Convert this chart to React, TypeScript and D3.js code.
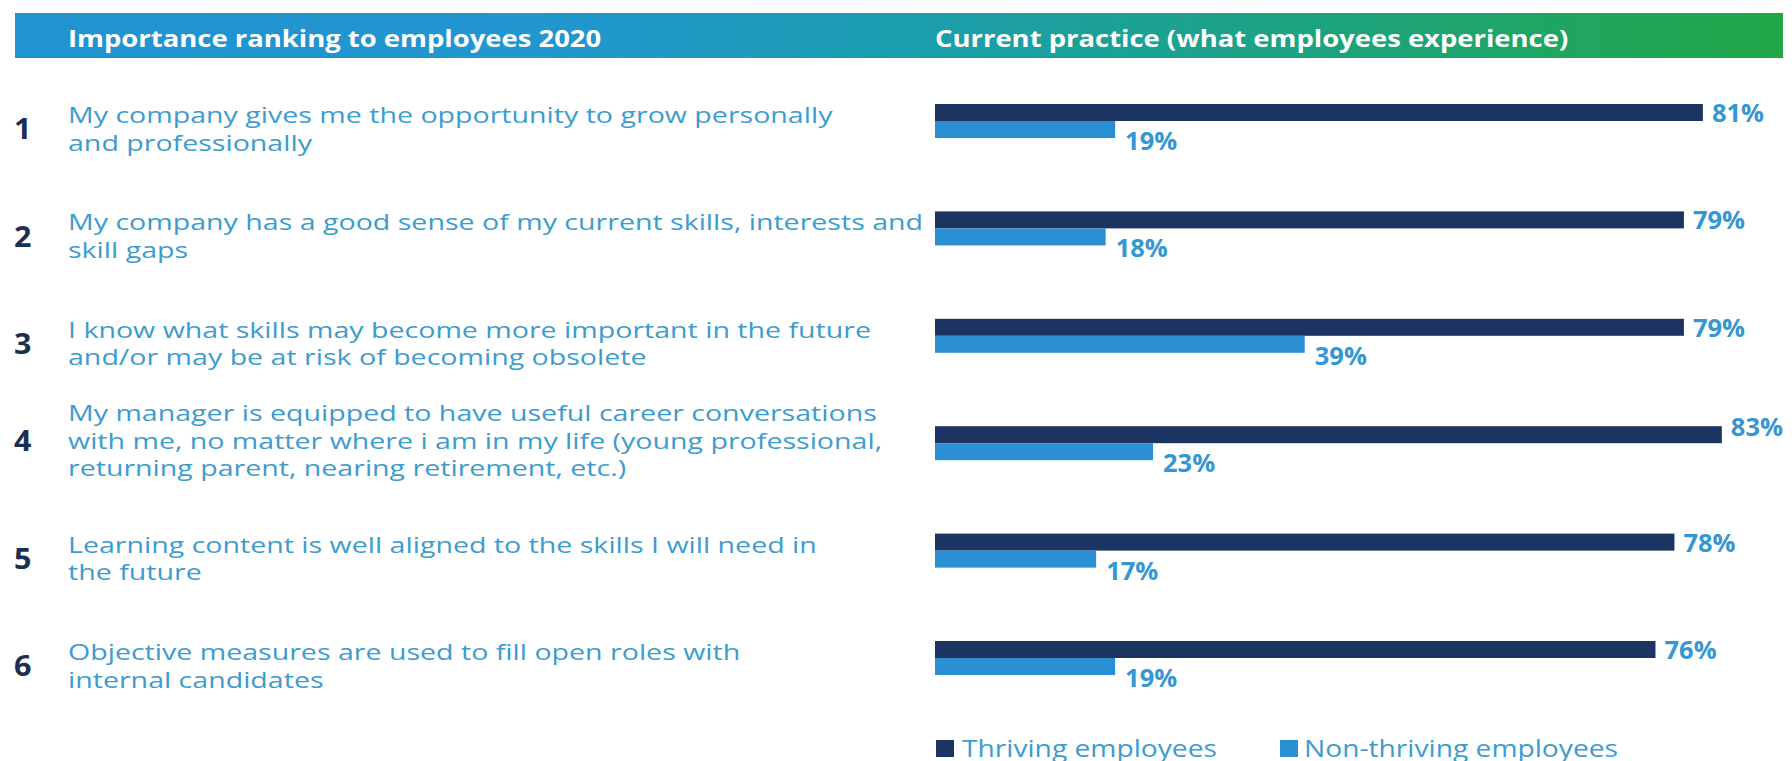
import React from "react";
import * as d3 from "d3";

const ranks = ["1", "2", "3", "4", "5", "6"];
const labels: string[][] = [
  ["My company gives me the opportunity to grow personally", "and professionally"],
  ["My company has a good sense of my current skills, interests and", "skill gaps"],
  ["I know what skills may become more important in the future", "and/or may be at risk of becoming obsolete"],
  [
    "My manager is equipped to have useful career conversations",
    "with me, no matter where i am in my life (young professional,",
    "returning parent, nearing retirement, etc.)",
  ],
  ["Learning content is well aligned to the skills I will need in", "the future"],
  ["Objective measures are used to fill open roles with", "internal candidates"],
];
const thriving = [81, 79, 79, 83, 78, 76];
const nonThriving = [19, 18, 39, 23, 17, 19];
const headerLeft = "Importance ranking to employees 2020";
const headerRight = "Current practice (what employees experience)";
const legendLabels = ["Thriving employees", "Non-thriving employees"];

const W = 1792;
const H = 761;
const NAVY = "#1b3461";
const LIGHT = "#2a8fd3";
const LABEL_COLOR = "#3c9ccf";
const VALUE_COLOR = "#3596d4";
const NUM_COLOR = "#1c2f52";
const FONT = "'Open Sans', 'DejaVu Sans', sans-serif";

function SText(props: {
  x: number;
  y: number;
  sx: number;
  size: number;
  weight?: number | string;
  fill: string;
  children: React.ReactNode;
}) {
  const { x, y, sx, size, weight, fill, children } = props;
  return (
    <text
      transform={`translate(${x},${y}) scale(${sx},1)`}
      fontFamily={FONT}
      fontSize={size}
      fontWeight={weight ?? 400}
      fill={fill}
    >
      {children}
    </text>
  );
}

export default function App() {
  const x = d3.scaleLinear().domain([0, 100]).range([935, 935 + 948]);
  const y = d3.scalePoint<string>().domain(ranks).range([121, 658]);
  const barH = 17;

  return (
    <svg
      width={W}
      height={H}
      style={{ position: "absolute", left: 0, top: 0, background: "#ffffff" }}
    >
      <defs>
        <linearGradient id="hdr" x1="0" x2="1" y1="0" y2="0">
          <stop offset="0" stopColor="#2293d2" />
          <stop offset="0.3" stopColor="#2196cf" />
          <stop offset="0.5" stopColor="#1b9eaf" />
          <stop offset="0.72" stopColor="#1ca382" />
          <stop offset="1" stopColor="#22a747" />
        </linearGradient>
      </defs>
      <rect x={15} y={13} width={1768} height={45} fill="url(#hdr)" />
      <SText x={68} y={47} sx={1.22} size={22.5} weight={700} fill="#ffffff">
        {headerLeft}
      </SText>
      <SText x={935} y={47} sx={1.22} size={22.5} weight={700} fill="#ffffff">
        {headerRight}
      </SText>

      {ranks.map((r, i) => {
        const b = y(r) as number;
        const lines = labels[i];
        const y0 = b + 2 - (lines.length - 2) * 24;
        const pitch = 27.5;
        const blockTop = y0 - 16;
        const blockBottom = y0 + (lines.length - 1) * pitch;
        const center = (blockTop + blockBottom) / 2;
        const tEnd = x(thriving[i]);
        const nEnd = x(nonThriving[i]);
        const tLabelY = tEnd > 1715 ? b - 7 : b + 1;
        return (
          <g key={r}>
            <SText x={14} y={center + 10.5} sx={1.05} size={29} weight={700} fill={NUM_COLOR}>
              {r}
            </SText>
            {lines.map((ln, k) => (
              <SText key={k} x={68} y={y0 + k * pitch} sx={1.27} size={22.5} fill={LABEL_COLOR}>
                {ln}
              </SText>
            ))}
            <rect x={x(0)} y={b - barH} width={tEnd - x(0)} height={barH} fill={NAVY} />
            <rect x={x(0)} y={b} width={nEnd - x(0)} height={barH} fill={LIGHT} />
            <SText x={tEnd + 9} y={tLabelY} sx={1.02} size={25} weight={700} fill={VALUE_COLOR}>
              {`${thriving[i]}%`}
            </SText>
            <SText x={nEnd + 10} y={b + 29} sx={1.02} size={25} weight={700} fill={VALUE_COLOR}>
              {`${nonThriving[i]}%`}
            </SText>
          </g>
        );
      })}

      <rect x={936} y={740} width={18} height={17} fill={NAVY} />
      <SText x={962} y={757} sx={1.2} size={23.5} fill={LABEL_COLOR}>
        {legendLabels[0]}
      </SText>
      <rect x={1280} y={740} width={18} height={17} fill={LIGHT} />
      <SText x={1304} y={757} sx={1.2} size={23.5} fill={LABEL_COLOR}>
        {legendLabels[1]}
      </SText>
    </svg>
  );
}
